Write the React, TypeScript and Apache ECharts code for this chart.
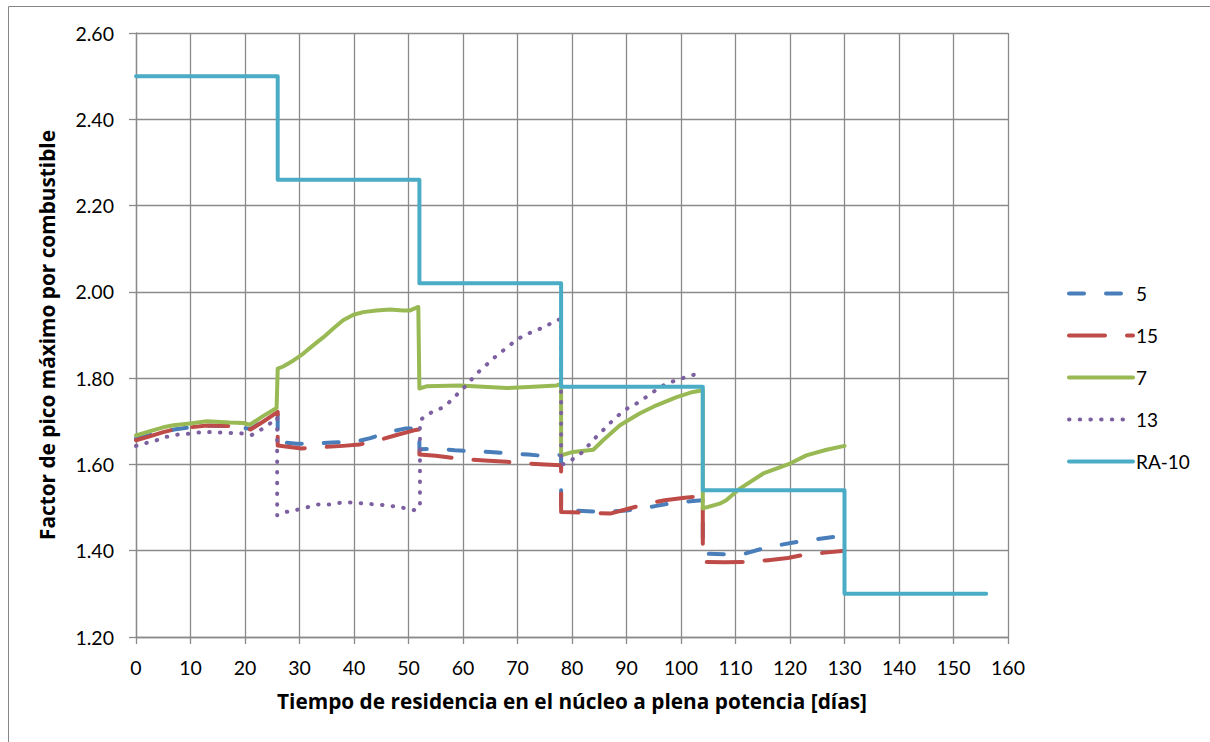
import React, { useEffect, useRef } from "react";
import * as echarts from "echarts";

const xTicks = [0, 10, 20, 30, 40, 50, 60, 70, 80, 90, 100, 110, 120, 130, 140, 150, 160];
const yTicks = [1.2, 1.4, 1.6, 1.8, 2.0, 2.2, 2.4, 2.6];

const s5Days = [0, 2.5, 5, 7, 10, 13, 17, 19.7, 21, 23.3, 26, 26, 29.5, 33, 36, 40, 43, 46.3, 49.3, 52, 52, 55, 58.5, 62, 65, 68.6, 72, 75.3, 78, 78, 82, 86, 90, 92.4, 95.5, 99, 102.2, 104, 104, 108, 111.7, 115, 118, 122, 125, 128, 130];
const s5Vals = [1.66, 1.668, 1.676, 1.681, 1.686, 1.69, 1.689, 1.685, 1.682, 1.7, 1.718, 1.652, 1.648, 1.648, 1.651, 1.652, 1.661, 1.675, 1.683, 1.684, 1.635, 1.637, 1.633, 1.63, 1.629, 1.625, 1.623, 1.619, 1.622, 1.494, 1.492, 1.49, 1.493, 1.497, 1.504, 1.512, 1.515, 1.517, 1.393, 1.392, 1.393, 1.405, 1.413, 1.422, 1.427, 1.432, 1.434];

const s15Days = [0, 2.5, 5, 7, 10, 13, 17, 19.7, 21, 23.3, 26, 26, 30.4, 34, 38, 41, 44.4, 47.5, 51, 52, 52, 55, 60, 64, 68, 71, 75, 78, 78, 80, 83, 87, 90, 93.7, 97, 100.7, 104, 104, 108, 112.6, 116, 119.6, 123, 126, 130];
const s15Vals = [1.656, 1.665, 1.675, 1.681, 1.686, 1.69, 1.689, 1.686, 1.681, 1.699, 1.722, 1.644, 1.637, 1.64, 1.643, 1.646, 1.656, 1.667, 1.679, 1.681, 1.623, 1.62, 1.612, 1.609, 1.606, 1.603, 1.6, 1.598, 1.49, 1.489, 1.488, 1.486, 1.496, 1.509, 1.517, 1.523, 1.527, 1.374, 1.373, 1.374, 1.378, 1.383, 1.392, 1.395, 1.4];

const s7Days = [0, 2.6, 5, 6.9, 9.9, 13, 17.2, 19.7, 20.9, 23.3, 25.8, 26, 27, 28.9, 30.7, 32.5, 34.4, 36.2, 38, 39.9, 41.7, 44.1, 46.6, 49, 50.3, 51.8, 52, 53.3, 59.4, 63.7, 68, 72.9, 77.2, 78, 78, 80.2, 83.9, 85.7, 88.8, 92.4, 95.5, 99.2, 102.2, 104, 104, 107.1, 108.3, 110.8, 115.1, 120, 123, 126.7, 130];
const s7Vals = [1.667, 1.677, 1.686, 1.691, 1.695, 1.7, 1.697, 1.696, 1.692, 1.712, 1.731, 1.822, 1.827, 1.841, 1.857, 1.876, 1.895, 1.915, 1.934, 1.947, 1.953, 1.957, 1.959, 1.957, 1.957, 1.965, 1.776, 1.781, 1.783, 1.78, 1.777, 1.78, 1.783, 1.787, 1.621, 1.629, 1.634, 1.656, 1.691, 1.718, 1.737, 1.756, 1.768, 1.772, 1.498, 1.509, 1.517, 1.544, 1.579, 1.602, 1.621, 1.634, 1.643];

const s13Days = [0, 2, 3.8, 5.6, 7.5, 9.6, 11.4, 13.4, 15.4, 17.4, 19.3, 21.2, 23, 24.6, 25.9, 25.9, 27.6, 29.6, 31.5, 33.4, 35.5, 37.4, 39.4, 41.3, 43.2, 45.2, 47.2, 49.2, 51, 52.1, 52.1, 53.3, 55, 56.7, 58.2, 59.6, 61, 62.2, 63.7, 65.1, 66.6, 68.2, 69.7, 71.4, 73.2, 75.1, 76.7, 78, 78, 78.9, 80.5, 82, 83.3, 84.6, 86, 87.4, 88.9, 90.4, 92.1, 93.8, 95.4, 97.1, 98.9, 100.8, 102.7];
const s13Vals = [1.643, 1.65, 1.656, 1.664, 1.669, 1.671, 1.674, 1.675, 1.674, 1.673, 1.672, 1.668, 1.681, 1.695, 1.709, 1.482, 1.49, 1.495, 1.501, 1.507, 1.507, 1.511, 1.512, 1.51, 1.508, 1.506, 1.503, 1.499, 1.494, 1.501, 1.701, 1.716, 1.724, 1.735, 1.753, 1.771, 1.788, 1.807, 1.824, 1.84, 1.857, 1.872, 1.888, 1.9, 1.91, 1.919, 1.932, 1.937, 1.6, 1.602, 1.615, 1.629, 1.648, 1.666, 1.683, 1.701, 1.718, 1.732, 1.743, 1.758, 1.772, 1.786, 1.794, 1.802, 1.809];

const raDays = [0, 26, 26, 52, 52, 78, 78, 104, 104, 130, 130, 156];
const raVals = [2.5, 2.5, 2.26, 2.26, 2.02, 2.02, 1.78, 1.78, 1.54, 1.54, 1.3, 1.3];

const seriesNames = ["5", "15", "7", "13", "RA-10"];
const seriesColors = ["#4A7EBB", "#BE4B48", "#98B954", "#7D60A0", "#4BACC6"];

const xTitle = "Tiempo de residencia en el núcleo a plena potencia [días]";
const yTitle = "Factor de pico máximo por combustible";

const FONT = "Lato, 'Open Sans', sans-serif";
const TITLE_FONT = "'Open Sans', Lato, sans-serif";

function zip(xs: number[], ys: number[]) {
  return xs.map((x, i) => [x, ys[i]]);
}

export default function App() {
  const ref = useRef<HTMLDivElement>(null);
  useEffect(() => {
    if (!ref.current) return;
    const chart = echarts.init(ref.current, undefined, { renderer: "svg" });
    const gridColor = "#8a8a8a";
    const data = [zip(s5Days, s5Vals), zip(s15Days, s15Vals), zip(s7Days, s7Vals), zip(s13Days, s13Vals), zip(raDays, raVals)];
    const dashes: any[] = [[15, 22], [36, 22], "solid", [0.5, 10.2], "solid"];
    chart.setOption({
      animation: false,
      backgroundColor: "#ffffff",
      textStyle: { fontFamily: FONT },
      graphic: [
        {
          type: "rect",
          shape: { x: 8.5, y: 6.5, width: 1400, height: 900 },
          style: { fill: "none", stroke: "#868686", lineWidth: 1 },
          silent: true,
          z: -10,
        },
      ],
      grid: { left: 136, right: 202, top: 33, bottom: 105, containLabel: false },
      legend: {
        orient: "vertical",
        left: 1062,
        top: 279,
        itemWidth: 64,
        itemHeight: 14,
        itemGap: 23,
        textStyle: { fontSize: 19, color: "#000", fontFamily: FONT, padding: [0, 0, 0, -2] },
        lineStyle: { width: 4, cap: "round" },
        itemStyle: { opacity: 0, color: "transparent", borderWidth: 0 },
        data: seriesNames,
      },
      xAxis: {
        type: "value",
        min: xTicks[0],
        max: xTicks[xTicks.length - 1],
        interval: 10,
        name: xTitle,
        nameLocation: "middle",
        nameGap: 53,
        nameTextStyle: { fontSize: 20.8, fontWeight: "bold", color: "#000", fontFamily: TITLE_FONT },
        axisLine: { show: true, lineStyle: { color: gridColor, width: 1.3 } },
        axisTick: { show: true, length: 7, lineStyle: { color: gridColor, width: 1.3 } },
        axisLabel: { fontSize: 19.5, color: "#000", margin: 20, fontFamily: FONT },
        splitLine: { show: true, lineStyle: { color: gridColor, width: 1.3 } },
      },
      yAxis: {
        type: "value",
        min: yTicks[0],
        max: yTicks[yTicks.length - 1],
        interval: 0.2,
        name: yTitle,
        nameLocation: "middle",
        nameGap: 79,
        nameTextStyle: { fontSize: 20.8, fontWeight: "bold", color: "#000", fontFamily: TITLE_FONT },
        axisLine: { show: true, lineStyle: { color: gridColor, width: 1.3 } },
        axisTick: { show: true, length: 7, lineStyle: { color: gridColor, width: 1.3 } },
        axisLabel: { fontSize: 19.5, color: "#000", margin: 22, fontFamily: FONT, formatter: (v: number) => v.toFixed(2) },
        splitLine: { show: true, lineStyle: { color: gridColor, width: 1.3 } },
      },
      series: seriesNames.map((name, i) => ({
        name,
        type: "line",
        data: data[i],
        symbol: "none",
        showSymbol: false,
        color: seriesColors[i],
        z: 2 + i,
        lineStyle: {
          color: seriesColors[i],
          width: 4,
          type: dashes[i],
          cap: "round",
          join: "round",
        },
      })),
    });
    return () => chart.dispose();
  }, []);
  return (
    <div
      ref={ref}
      style={{ position: "absolute", left: 0, top: 0, width: 1210, height: 742, background: "#fff" }}
    />
  );
}
